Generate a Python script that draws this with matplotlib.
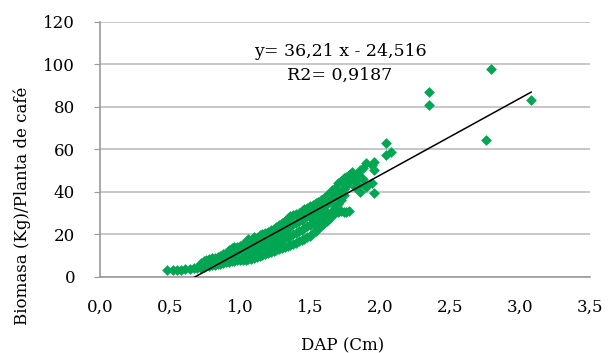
import matplotlib
matplotlib.use("Agg")
import matplotlib.pyplot as plt
import numpy as np

plt.rcParams['font.family'] = ['DejaVu Serif']

# --- data ---
dap = [
    0.48, 0.52, 0.55, 0.58, 0.61, 0.64, 0.67, 0.69,
    0.72, 0.72, 0.72, 0.74, 0.74, 0.74, 0.76, 0.76, 0.76, 0.78, 0.78, 0.78,
    0.80, 0.80, 0.80, 0.82, 0.82, 0.82, 0.84, 0.84, 0.84, 0.86, 0.86, 0.86,
    0.88, 0.88, 0.88, 0.90, 0.90, 0.90,
    0.92, 0.92, 0.92, 0.92, 0.94, 0.94, 0.94, 0.94, 0.96, 0.96, 0.96, 0.96,
    0.98, 0.98, 0.98, 0.98,
    1.00, 1.00, 1.00, 1.00, 1.00, 1.02, 1.02, 1.02, 1.02, 1.04, 1.04, 1.04, 1.04,
    1.06, 1.06, 1.06, 1.06, 1.06, 1.08, 1.08, 1.08, 1.08,
    1.10, 1.10, 1.10, 1.10, 1.10, 1.12, 1.12, 1.12, 1.12, 1.14, 1.14, 1.14, 1.14,
    1.16, 1.16, 1.16, 1.16, 1.18, 1.18, 1.18, 1.18, 1.20, 1.20, 1.20, 1.20,
    1.22, 1.22, 1.22, 1.22, 1.24, 1.24, 1.24, 1.24, 1.26, 1.26, 1.26, 1.26,
    1.28, 1.28, 1.28, 1.28, 1.30, 1.30, 1.30, 1.30, 1.32, 1.32, 1.32, 1.32,
    1.34, 1.34, 1.34, 1.34, 1.36, 1.36, 1.36, 1.36, 1.38, 1.38, 1.38, 1.38,
    1.40, 1.40, 1.40, 1.40, 1.42, 1.42, 1.42, 1.42, 1.44, 1.44, 1.44, 1.44,
    1.46, 1.46, 1.46, 1.46, 1.48, 1.48, 1.48, 1.48, 1.50, 1.50, 1.50, 1.50,
    1.52, 1.52, 1.52, 1.52, 1.52, 1.54, 1.54, 1.54, 1.54, 1.56, 1.56, 1.56, 1.56,
    1.58, 1.58, 1.58, 1.58, 1.60, 1.60, 1.60, 1.60, 1.62, 1.62, 1.62, 1.62,
    1.64, 1.64, 1.64, 1.64, 1.66, 1.66, 1.66, 1.66, 1.68, 1.68, 1.68, 1.68,
    1.70, 1.70, 1.70, 1.70, 1.72, 1.72, 1.72, 1.72, 1.74, 1.74, 1.74, 1.74,
    1.76, 1.76, 1.76, 1.78, 1.78, 1.78, 1.80, 1.80, 1.82, 1.82, 1.84, 1.84,
    1.86, 1.86, 1.88, 1.88, 1.90, 1.90, 1.94, 1.94, 1.96, 1.96, 1.96,
    2.04, 2.04, 2.08,
    2.35, 2.35, 2.79, 2.76, 3.08,
]
biomasa = [
    3.2, 3.3, 3.4, 3.3, 3.6, 3.7, 4.0, 4.4,
    4.0, 5.5, 6.8, 4.6, 6.2, 7.6, 5.0, 6.5, 8.0, 5.3, 7.2, 8.4,
    5.6, 7.0, 8.8, 5.8, 7.6, 9.0, 6.1, 8.0, 9.6, 6.3, 8.4, 10.0,
    6.6, 8.9, 10.7, 6.9, 9.2, 11.3,
    7.2, 9.6, 11.8, 12.6, 7.5, 10.1, 12.3, 13.5, 7.6, 10.6, 12.8, 14.0,
    7.8, 11.0, 13.2, 14.3,
    8.0, 9.8, 11.6, 13.5, 14.8, 8.1, 10.4, 12.4, 15.3, 8.2, 10.9, 13.0, 16.0,
    8.4, 11.2, 13.8, 16.9, 18.0, 8.7, 11.8, 14.5, 17.2,
    9.0, 12.2, 15.0, 17.8, 19.0, 9.5, 12.8, 15.6, 18.3, 9.8, 13.2, 16.2, 19.6,
    10.3, 13.8, 16.8, 20.2, 10.8, 14.2, 17.4, 20.8, 11.2, 14.8, 18.0, 21.4,
    11.6, 15.1, 18.5, 22.0, 12.2, 15.8, 19.2, 22.8, 12.8, 16.4, 19.8, 23.4,
    13.2, 17.0, 20.6, 24.5, 13.6, 17.5, 21.4, 25.6, 14.0, 18.2, 22.2, 26.4,
    14.6, 18.8, 23.0, 27.8, 15.0, 19.5, 24.0, 28.6, 15.6, 20.2, 24.8, 29.2,
    16.2, 20.8, 25.6, 29.8, 16.8, 21.6, 26.3, 30.2, 17.4, 22.3, 27.0, 31.0,
    18.0, 23.0, 27.8, 31.8, 18.8, 23.8, 28.5, 32.6, 19.5, 24.5, 29.2, 33.4,
    20.6, 25.3, 26.8, 30.0, 34.0, 21.8, 26.0, 30.8, 34.8, 23.0, 27.0, 31.5, 35.5,
    24.2, 28.0, 32.4, 36.4, 25.2, 29.0, 33.4, 37.4, 26.4, 30.2, 34.5, 38.4,
    27.6, 30.0, 35.6, 39.6, 29.0, 30.8, 36.8, 40.8, 30.2, 33.0, 38.0, 42.0,
    30.6, 34.5, 39.2, 44.0, 31.0, 36.0, 40.5, 45.0, 30.7, 38.6, 41.5, 46.5,
    30.7, 43.0, 47.0, 31.0, 44.5, 48.0, 47.5, 49.4, 42.5, 45.0, 43.3, 48.5,
    40.0, 50.5, 51.3, 46.0, 42.5, 53.6, 44.0, 52.5, 39.5, 54.3, 50.4,
    57.6, 63.0, 59.0,
    87.2, 81.0, 97.9, 64.5, 83.3,
]
slope = 36.21
intercept = -24.516
equation_text = "y= 36,21 x - 24,516"
r2_text = "R2= 0,9187"
x_ticks = [0.0, 0.5, 1.0, 1.5, 2.0, 2.5, 3.0, 3.5]
y_ticks = [0, 20, 40, 60, 80, 100, 120]

fig = plt.figure(figsize=(6.08, 3.53), dpi=100)
ax = fig.add_axes([0.1645, 0.2153, 0.8059, 0.7224])

ax.scatter(dap, biomasa, marker='D', s=30, color='#00a651', linewidths=0, zorder=3)

xl = np.array([min(dap), max(dap)])
ax.plot(xl, slope * xl + intercept, color='black', lw=1.1, zorder=4)

ax.set_xlim(0, 3.5)
ax.set_ylim(0, 120)
ax.set_xticks(x_ticks)
ax.set_xticklabels([f"{v:.1f}".replace('.', ',') for v in x_ticks])
ax.set_yticks(y_ticks)
ax.set_yticklabels([str(v) for v in y_ticks])

ax.grid(axis='y', color='#bdbdbd', lw=1.2, zorder=0)
ax.set_axisbelow(True)
for s in ['top', 'right']:
    ax.spines[s].set_visible(False)
for s in ['left', 'bottom']:
    ax.spines[s].set_color('#9a9a9a')
    ax.spines[s].set_linewidth(1.2)

ax.tick_params(axis='y', length=4, color='#9a9a9a', pad=14, labelsize=12)
ax.tick_params(axis='x', length=0, pad=16, labelsize=12)

ax.set_xlabel("DAP (Cm)", fontsize=12)
ax.xaxis.set_label_coords(0.496, -0.235)
ax.set_ylabel("Biomasa (Kg)/Planta de café", fontsize=12)
ax.yaxis.set_label_coords(-0.141, 0.28)

ax.text(0.49, 0.886, equation_text, transform=ax.transAxes, ha='center', va='center', fontsize=12.5)
ax.text(0.49, 0.792, r2_text, transform=ax.transAxes, ha='center', va='center', fontsize=12.5)

fig.savefig("out.png", dpi=100)
